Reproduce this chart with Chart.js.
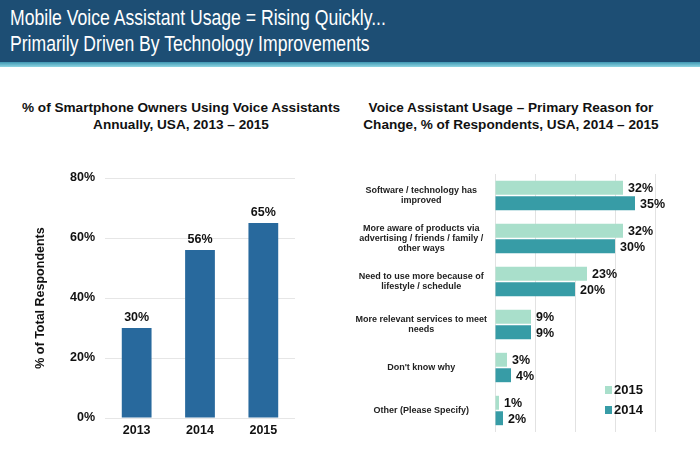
<!DOCTYPE html>
<html>
<head>
<meta charset="utf-8">
<script src="https://cdn.jsdelivr.net/npm/chart.js@4.4.1/dist/chart.umd.min.js"></script>
<style>
  html, body { margin: 0; padding: 0; background: #fff; }
  #page { position: relative; width: 700px; height: 456px; overflow: hidden; font-family: "Liberation Sans", Arial, sans-serif; }
  #header { position: absolute; left: 0; top: 0; width: 700px; height: 62px; background: #1d4e74; }
  #header .bar { position: absolute; left: 0; top: 62px; width: 700px; height: 5px; background: linear-gradient(#3f97b3, #8fd6e2); }
  #header h1 { position: absolute; left: 10px; top: 5px; margin: 0; color: #fff; font-family: "Liberation Sans", Arial, sans-serif; font-weight: normal; font-size: 22px; line-height: 26px; white-space: nowrap; transform: scaleX(0.8); transform-origin: 0 0; }
  .sub { position: absolute; margin: 0; color: #111; font-weight: bold; font-size: 13.6px; line-height: 17px; text-align: center; white-space: nowrap; }
  #t1 { left: 11px; width: 340px; top: 99px; }
  #t2 { left: 350px; width: 322px; top: 99px; }
  .box { position: absolute; top: 150px; width: 350px; height: 306px; }
  #b1 { left: 0; }
  #b2 { left: 350px; }
</style>
</head>
<body>
<div id="page">
  <div id="header">
    <h1>Mobile Voice Assistant Usage = Rising Quickly...<br>Primarily Driven By Technology Improvements</h1>
    <div class="bar"></div>
  </div>
  <div class="sub" id="t1">% of Smartphone Owners Using Voice Assistants<br>Annually, USA, 2013 – 2015</div>
  <div class="sub" id="t2">Voice Assistant Usage – Primary Reason for<br>Change, % of Respondents, USA, 2014 – 2015</div>
  <div class="box" id="b1"><canvas id="ownersChart"></canvas></div>
  <div class="box" id="b2"><canvas id="reasonChart"></canvas></div>
</div>
<script>
// left chart data
const years = ['2013', '2014', '2015'];
const ownersPct = [30, 56, 65];
const ownersTicks = [0, 20, 40, 60, 80];

// right chart data
const reasons = [
  ['Software / technology has', 'improved'],
  ['More aware of products via', 'advertising / friends / family /', 'other ways'],
  ['Need to use more because of', 'lifestyle / schedule'],
  ['More relevant services to meet', 'needs'],
  ["Don't know why"],
  ['Other (Please Specify)']
];
const reason2015 = [32, 32, 23, 9, 3, 1];
const reason2014 = [35, 30, 20, 9, 4, 2];
const reasonYears = ['2015', '2014'];
const reasonTicks = [0, 10, 20, 30, 40];

const FONT = "'Liberation Sans', Arial, sans-serif";

// draws the % value next to each bar
const valueLabels = {
  id: 'valueLabels',
  afterDatasetsDraw(chart) {
    const ctx = chart.ctx;
    const horizontal = chart.options.indexAxis === 'y';
    ctx.save();
    ctx.font = 'bold 12.5px ' + FONT;
    ctx.fillStyle = '#111';
    chart.data.datasets.forEach((ds, i) => {
      chart.getDatasetMeta(i).data.forEach((bar, j) => {
        const txt = ds.data[j] + '%';
        if (horizontal) {
          ctx.textAlign = 'left';
          ctx.textBaseline = 'middle';
          ctx.fillText(txt, bar.x + 5, bar.y + 1);
        } else {
          ctx.textAlign = 'center';
          ctx.textBaseline = 'bottom';
          ctx.fillText(txt, bar.x, bar.y - 4);
        }
      });
    });
    ctx.restore();
  }
};

// small legend inside the plot, bottom right
const cornerLegend = {
  id: 'cornerLegend',
  afterDraw(chart) {
    const ctx = chart.ctx;
    const a = chart.chartArea;
    ctx.save();
    ctx.font = 'bold 13px ' + FONT;
    ctx.textBaseline = 'middle';
    ctx.textAlign = 'left';
    chart.data.datasets.forEach((ds, i) => {
      const y = a.bottom - 42 + i * 20;
      ctx.fillStyle = ds.backgroundColor;
      ctx.fillRect(a.right - 67, y - 4, 7, 8);
      ctx.fillStyle = '#111';
      ctx.fillText(ds.label, a.right - 58, y);
    });
    ctx.restore();
  }
};

new Chart(document.getElementById('ownersChart'), {
  type: 'bar',
  data: {
    labels: years,
    datasets: [{
      data: ownersPct,
      backgroundColor: '#28699d',
      barPercentage: 0.94,
      categoryPercentage: 0.5
    }]
  },
  options: {
    responsive: true,
    maintainAspectRatio: false,
    animation: false,
    layout: { padding: { left: 28, right: 55, top: 28, bottom: 13 } },
    plugins: { legend: { display: false }, tooltip: { enabled: false } },
    scales: {
      x: {
        grid: { display: false, drawTicks: false },
        border: { display: false },
        ticks: { color: '#111', font: { family: FONT, size: 12.5, weight: 'bold' }, padding: 5 }
      },
      y: {
        min: 0,
        max: 80,
        afterFit(scale) { scale.width = 77; },
        afterBuildTicks(scale) { scale.ticks = ownersTicks.map(v => ({ value: v })); },
        grid: { color: '#e6e6e6', drawTicks: false },
        border: { display: false },
        ticks: {
          color: '#111',
          padding: 10,
          font: { family: FONT, size: 12.5, weight: 'bold' },
          callback: v => v + '%'
        },
        title: {
          display: true,
          text: '% of Total Respondents',
          color: '#111',
          font: { family: FONT, size: 12.5, weight: 'bold' },
          padding: { top: 5, bottom: 4 }
        }
      }
    }
  },
  plugins: [valueLabels]
});

new Chart(document.getElementById('reasonChart'), {
  type: 'bar',
  data: {
    labels: reasons,
    datasets: [
      { label: reasonYears[0], data: reason2015, backgroundColor: '#a9dfcb', barPercentage: 0.9, categoryPercentage: 0.72 },
      { label: reasonYears[1], data: reason2014, backgroundColor: '#379ca6', barPercentage: 0.9, categoryPercentage: 0.72 }
    ]
  },
  options: {
    indexAxis: 'y',
    responsive: true,
    maintainAspectRatio: false,
    animation: false,
    layout: { padding: { left: 2, right: 28, top: 24, bottom: 24 } },
    plugins: { legend: { display: false }, tooltip: { enabled: false } },
    scales: {
      x: {
        min: 0,
        max: 44.25,
        afterBuildTicks(scale) { scale.ticks = reasonTicks.map(v => ({ value: v })); },
        grid: { color: '#e2e2e2', drawTicks: false },
        border: { display: false },
        ticks: { display: false }
      },
      y: {
        afterFit(scale) { scale.width = 143; },
        grid: { display: false, drawTicks: false },
        border: { display: false },
        ticks: {
          crossAlign: 'center',
          padding: 8,
          color: '#222',
          font: { family: FONT, size: 9, weight: 'bold', lineHeight: 1.12 }
        }
      }
    }
  },
  plugins: [valueLabels, cornerLegend]
});
</script>
</body>
</html>
